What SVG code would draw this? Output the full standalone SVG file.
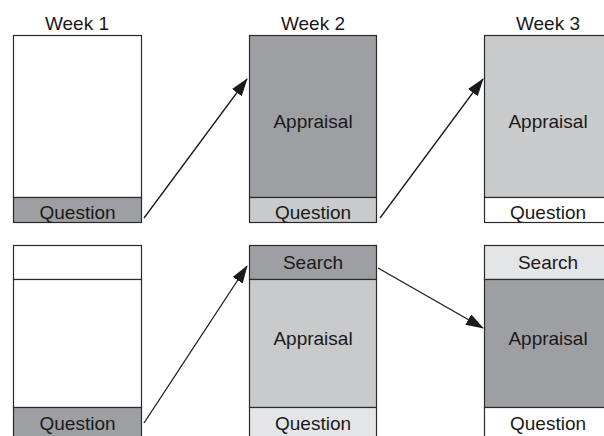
<svg xmlns="http://www.w3.org/2000/svg" width="604" height="436" viewBox="0 0 604 436">
<style>
.b{stroke:#2a2a2a;stroke-width:1.2}
.w{fill:#ffffff}.d{fill:#9e9fa3}.m{fill:#c9cacc}.l{fill:#e4e5e7}
text{font-family:"Liberation Sans",Arial,sans-serif;font-size:19px;fill:#1a1a1a;text-anchor:middle}
.c{stroke:#1a1a1a;stroke-width:1.3;fill:none;marker-end:url(#ah)}
</style>
<defs>
<marker id="ah" markerWidth="18" markerHeight="12" refX="17" refY="6" orient="auto" markerUnits="userSpaceOnUse">
<path d="M0,0 L18,6 L0,12 Z" fill="#1a1a1a"/>
</marker>
</defs>
<rect width="604" height="436" fill="#ffffff"/>
<g id="headers">
<text x="77" y="30">Week 1</text>
<text x="313" y="30">Week 2</text>
<text x="548" y="30">Week 3</text>
</g>
<g id="w1top">
<rect class="b w" x="13.5" y="35.5" width="128" height="162"/>
<rect class="b d" x="13.5" y="197.5" width="128" height="25"/>
<text x="77.5" y="219">Question</text>
</g>
<g id="w2top">
<rect class="b d" x="249.5" y="35.5" width="127" height="162"/>
<text x="313" y="128">Appraisal</text>
<rect class="b m" x="249.5" y="197.5" width="127" height="25"/>
<text x="313" y="219">Question</text>
</g>
<g id="w3top">
<rect class="b m" x="484.5" y="35.5" width="128" height="162"/>
<text x="548" y="128">Appraisal</text>
<rect class="b w" x="484.5" y="197.5" width="128" height="25"/>
<text x="548" y="219">Question</text>
</g>
<g id="w1bot">
<rect class="b w" x="13.5" y="245.5" width="128" height="34"/>
<rect class="b w" x="13.5" y="279.5" width="128" height="128"/>
<rect class="b d" x="13.5" y="407.5" width="128" height="34"/>
<text x="77.5" y="430">Question</text>
</g>
<g id="w2bot">
<rect class="b d" x="249.5" y="245.5" width="127" height="34"/>
<text x="313" y="269">Search</text>
<rect class="b m" x="249.5" y="279.5" width="127" height="128"/>
<text x="313" y="345">Appraisal</text>
<rect class="b l" x="249.5" y="407.5" width="127" height="34"/>
<text x="313" y="430">Question</text>
</g>
<g id="w3bot">
<rect class="b l" x="484.5" y="245.5" width="128" height="34"/>
<text x="548" y="269">Search</text>
<rect class="b d" x="484.5" y="279.5" width="128" height="128"/>
<text x="548" y="345">Appraisal</text>
<rect class="b w" x="484.5" y="407.5" width="128" height="34"/>
<text x="548" y="430">Question</text>
</g>
<g id="connectors">
<line class="c" x1="144" y1="218" x2="247" y2="79"/>
<line class="c" x1="380" y1="218" x2="483" y2="79"/>
<line class="c" x1="144" y1="423" x2="247" y2="266"/>
<line class="c" x1="378" y1="268" x2="483" y2="328"/>
</g>
</svg>
